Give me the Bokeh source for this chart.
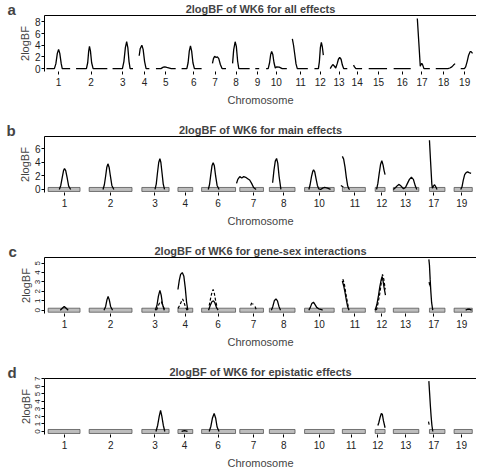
from bokeh.plotting import figure
from bokeh.layouts import column
from bokeh.models import FixedTicker, LinearAxis, Label, Range1d
from bokeh.embed import file_html
from bokeh.resources import INLINE

FONT = "Liberation Sans"

# ---------------- panel a : all effects ----------------
a_title = "2logBF of WK6 for all effects"
a_tick_pos = [52.3, 85.3, 117.3, 139.3, 161, 189.3, 211, 232.3, 254, 273,
              297.7, 317.7, 336.7, 355, 376.7, 400.7, 420.7, 442.7, 464]
a_tick_lab = ["1", "2", "3", "4", "5", "6", "7", "8", "9", "10",
              "11", "12", "13", "14", "15", "16", "17", "18", "19"]
a_yticks = [0, 2, 4, 6, 8]
a_x = [
    [40, 48, 49.5, 51, 52.3, 53.5, 55, 56, 64],
    [70, 80.5, 81.8, 82.8, 83.6, 84.6, 85.8, 87.3, 101.7],
    [107, 117, 118.5, 120, 121.3, 122.5, 123.7, 124.8, 127.7],
    [134, 135, 136.7, 138, 139.5, 141, 144.3],
    [151, 156, 158.5, 160, 162, 166.5, 171],
    [177, 182.3, 183.6, 184.8, 186, 187.2, 188.5, 190, 197.3],
    [208.3, 209.3, 210.5, 212, 213.3, 214.7, 216.3, 218, 222],
    [228.7, 229.8, 231.3, 232.5, 233.8, 235, 246],
    [251.7, 255.7],
    [262.7, 264.8, 266.2, 267.3, 268.3, 269.5, 270.7, 272, 273.5, 276, 279, 283.7],
    [289.3, 290.5, 291.7, 293, 294.3, 305],
    [311.7, 315.7, 316.7, 317.7, 318.7, 319.7, 320.7],
    [327.7, 328.7, 330.3, 332, 333.3, 334.7, 336, 337.3, 338.7, 340, 341.3, 345],
    [351.3, 352.3, 353.7, 360],
    [366.7, 385.3],
    [392, 409.3],
    [416, 417.5, 419, 419.7, 420.5, 421.5, 422.7, 428.7],
    [434.7, 447, 449, 451, 452.7, 454.3],
    [460, 463.7, 465, 466.5, 468, 469.5, 470.5, 472],
]
a_y = [
    [0, 0, 0.8, 2.6, 3.3, 2.6, 0.8, 0, 0],
    [0, 0, 1.0, 3.0, 3.8, 3.0, 1.0, 0, 0],
    [0, 0, 1.2, 3.6, 4.6, 3.6, 1.2, 0, 0],
    [2.2, 3.4, 4.0, 3.3, 1.2, 0, 0],
    [0, 0, 0.25, 0.3, 0.2, 0, 0],
    [0, 0, 1.0, 3.0, 3.9, 3.0, 1.0, 0, 0],
    [0.9, 1.7, 2.1, 1.9, 2.0, 1.7, 0.7, 0, 0],
    [0.9, 3.2, 4.6, 3.8, 1.3, 0, 0],
    [0, 0],
    [0, 0, 1.0, 2.4, 2.95, 2.4, 1.0, 0.1, 0.3, 0.25, 0, 0],
    [5.1, 4.0, 2.5, 0.8, 0, 0],
    [0, 0, 1.2, 3.6, 4.5, 3.7, 2.3],
    [0, 0.3, 0.7, 0.4, 0.1, 0.8, 1.6, 1.9, 1.6, 0.6, 0, 0],
    [0.6, 0.3, 0, 0],
    [0, 0],
    [0, 0],
    [8.6, 4.5, 0.4, 0.7, 0.9, 0.6, 0, 0],
    [0, 0, 0.1, 0.3, 0.6, 0.85],
    [0, 0, 0.3, 1.2, 2.3, 2.9, 2.9, 2.6],
]

# ---------------- shared chromosome bars (panels b, c, d) ----------------
bcd_tick_lab = ["1", "2", "3", "4", "6", "7", "8", "10", "11", "12", "13", "17", "19"]
bc_tick_pos = [58.3, 105, 150, 180.7, 214, 250, 280.7, 316.7, 352.7, 380, 404, 432.7, 461]
d_tick_pos = [58.3, 105.3, 150, 180, 214, 250, 280.7, 316.7, 349, 376, 404.3, 432.7, 460.7]
bar_start = [41.7, 83.3, 136.7, 173.3, 197.3, 236, 266, 301.7, 340, 373.3, 391.7, 428.3, 453.3]
bar_end = [74, 126.7, 164.3, 188.3, 231.7, 260, 292, 331.7, 363.3, 383.3, 417.5, 444, 471.7]

# ---------------- panel b : main effects ----------------
b_title = "2logBF of WK6 for main effects"
b_yticks = [0, 2, 4, 6]
b_x = [
    [53, 54.5, 56, 57.3, 58.3, 59.5, 61, 62.5, 64.5],
    [97.3, 98.7, 100, 101.2, 102.3, 103.5, 104.8, 106.3, 108.3],
    [150, 151.3, 152.5, 153.8, 155, 156, 157.2, 158.4, 159.7],
    [204, 205.3, 206.6, 207.8, 209, 210.2, 211.5, 213, 215],
    [232.7, 234, 236, 238, 240, 242, 244, 246, 248, 250, 252.5],
    [269.3, 270.7, 272, 273.3, 274.5, 275.8, 277.7],
    [306, 307.3, 308.7, 310, 310.8, 312, 313.3, 314.7, 316, 318, 320, 322, 325, 328],
    [340, 341.3, 342.7, 344, 345.3, 346.5, 347.5],
    [374.7, 376, 377.3, 378.7, 380, 381.3, 382.3, 383.3],
    [391.7, 394, 396, 397.5, 399.5, 402, 404, 406, 408, 410, 412, 414, 415.5],
    [428.3, 429.5, 430.7, 431.3, 432.3, 433.5, 434.7, 436],
    [460, 461.3, 462.5, 464, 465.5, 467, 468.5, 470.5],
]
b_y = [
    [0, 0.6, 1.8, 2.8, 3.1, 2.8, 1.7, 0.5, 0],
    [0, 0.7, 2.0, 3.3, 3.8, 3.3, 2.0, 0.6, 0],
    [0, 0.8, 2.4, 4.0, 4.55, 4.0, 2.4, 0.8, 0],
    [0, 0.7, 2.2, 3.5, 3.95, 3.5, 2.0, 0.6, 0],
    [0.9, 1.5, 1.9, 1.7, 1.9, 1.8, 1.6, 1.4, 0.9, 0.3, 0],
    [1.0, 2.9, 4.2, 4.6, 3.9, 2.0, 0],
    [0, 0.7, 1.9, 2.7, 2.9, 2.6, 1.6, 0.6, 0.1, 0, 0.2, 0.3, 0.2, 0],
    [4.9, 4.5, 3.3, 1.8, 0.6, 0.1, 0],
    [0, 0.9, 2.3, 3.7, 4.25, 3.6, 2.8, 2.2],
    [0, 0.3, 0.6, 0.75, 0.5, 0.1, 0.3, 0.9, 1.5, 1.8, 1.5, 0.5, 0],
    [7.3, 4.0, 0.8, 0.2, 0.5, 0.7, 0.4, 0],
    [0, 0.4, 1.3, 2.2, 2.5, 2.6, 2.5, 2.4],
]
b_dash_x = [[338.5, 340.5, 342.5]]
b_dash_y = [[0.6, 0.4, 0.1]]

# ---------------- panel c : gene-sex interactions ----------------
c_title = "2logBF of WK6 for gene-sex interactions"
c_yticks = [0, 1, 2, 3, 4, 5]
c_x = [
    [54, 56, 58, 60, 62],
    [98.3, 100, 101.3, 102.5, 103.7, 105, 107],
    [150.3, 152, 153.5, 155, 156.3, 157.7, 159.5],
    [173.3, 174.7, 176, 177.7, 179.3, 180.7, 182, 183.3],
    [204.3, 206, 207.7, 209.3, 210.7, 212.3, 214],
    [268, 269.5, 271, 272.7, 274.2, 275.7, 277.3],
    [306, 307.5, 309, 310.7, 312.3, 314, 316, 318, 320],
    [340, 341.3, 342.7, 344, 345.3, 346.7],
    [373.3, 375, 376.7, 378, 379.3, 380.3, 381.3, 382.3, 383.7],
    [427.7, 428.3, 429, 429.7, 430.5, 431.7],
    [465, 467, 469, 471],
]
c_y = [
    [0, 0.2, 0.4, 0.2, 0],
    [0, 0.4, 1.1, 1.45, 1.1, 0.4, 0],
    [0, 0.5, 1.5, 2.1, 1.6, 0.6, 0],
    [2.2, 3.2, 3.8, 4.0, 3.6, 2.4, 0.9, 0],
    [0, 0.5, 0.9, 1.0, 0.8, 0.3, 0],
    [0, 0.4, 1.0, 1.2, 1.0, 0.4, 0],
    [0, 0.3, 0.7, 0.85, 0.6, 0.3, 0.15, 0.1, 0],
    [3.1, 2.6, 1.9, 1.1, 0.4, 0],
    [0, 0.6, 1.6, 2.5, 3.2, 3.6, 3.1, 2.4, 1.6],
    [5.4, 4.8, 3.3, 2.0, 0.8, 0],
    [0, 0.1, 0.1, 0],
]
c_dash_x = [
    [151.5, 153.5, 155, 156.5, 158, 160],
    [173.3, 175, 176.7, 178, 179.3, 180.7, 182.5],
    [205, 206.5, 208, 209, 210, 211.5, 213],
    [247, 248.3, 249.5],
    [251.5, 252.5],
    [340.5, 342, 343.5, 345, 346.5],
    [374.5, 376.3, 378, 379.3, 380.7, 382, 383.5],
    [428, 428.7, 429.3],
]
c_dash_y = [
    [0, 0.5, 0.85, 0.9, 0.5, 0],
    [0.2, 0.5, 0.9, 1.2, 0.9, 0.4, 0],
    [0.5, 1.3, 2.0, 2.2, 1.9, 1.0, 0.3],
    [0.5, 0.85, 0.6],
    [0.4, 0.1],
    [3.3, 2.8, 1.8, 0.9, 0.1],
    [0, 0.8, 1.8, 2.8, 3.8, 3.3, 2.2],
    [3.0, 2.5, 2.8],
]

# ---------------- panel d : epistatic effects ----------------
d_title = "2logBF of WK6 for epistatic effects"
d_yticks = [0, 1, 2, 3, 4, 5, 6, 7]
d_x = [
    [151, 152.7, 154.3, 155.7, 157, 158.5, 160],
    [177, 180, 183],
    [205, 206.7, 208.3, 210, 211.5, 213, 215],
    [376, 377, 378.3, 379.5, 380.5, 381.7, 383.3],
    [427.7, 428.5, 429.3, 430, 430.8, 431.7],
]
d_y = [
    [0, 0.8, 2.0, 2.8, 2.0, 0.8, 0],
    [0, 0.1, 0],
    [0, 0.7, 1.8, 2.4, 1.8, 0.6, 0],
    [0.8, 1.2, 1.9, 2.4, 2.3, 1.4, 0.5],
    [6.7, 5.0, 3.3, 2.0, 0.8, 0],
]
d_dash_x = [[427.3, 428, 428.5]]
d_dash_y = [[1.3, 0.9, 1.1]]


FRAME_W = 432
FRAME_H = 56
LEFT = 44


def make_panel(letter, title, yticks, yrange, vertical_labels, tick_pos, tick_lab,
               bottom, letter_dy):
    p = figure(frame_width=FRAME_W, frame_height=FRAME_H,
               x_range=Range1d(38, 476), y_range=Range1d(*yrange),
               output_backend="svg", toolbar_location=None,
               min_border_left=LEFT, min_border_right=0,
               min_border_top=0, min_border_bottom=bottom)
    p.background_fill_color = "white"
    p.border_fill_color = "white"
    p.outline_line_color = None
    p.grid.visible = False

    p.title.text = title
    p.title.align = "center"
    p.title.text_font = FONT
    p.title.text_font_size = "11px"
    p.title.text_font_style = "bold"
    p.title.standoff = 1
    p.title.offset = 0

    xa = p.xaxis[0]
    xa.ticker = FixedTicker(ticks=tick_pos)
    xa.major_label_overrides = {t: l for t, l in zip(tick_pos, tick_lab)}
    xa.axis_line_color = None
    xa.major_tick_out = 3
    xa.major_tick_in = 0
    xa.minor_tick_line_color = None
    xa.major_label_standoff = 3
    xa.major_label_text_font = FONT
    xa.major_label_text_font_size = "10px"
    xa.major_label_text_color = "#222222"
    xa.axis_label = "Chromosome"
    xa.axis_label_text_font = FONT
    xa.axis_label_text_font_size = "11px"
    xa.axis_label_text_font_style = "normal"
    xa.axis_label_standoff = 5

    ya = p.yaxis[0]
    ya.ticker = FixedTicker(ticks=yticks)
    ya.axis_line_color = "black"
    ya.major_tick_out = 3
    ya.major_tick_in = 0
    ya.minor_tick_line_color = None
    ya.major_label_standoff = 1
    ya.major_label_text_font = FONT
    ya.major_label_text_font_size = "8px" if vertical_labels else "10px"
    ya.major_label_text_color = "#222222"
    if vertical_labels:
        ya.major_label_orientation = "vertical"
    ya.axis_label = "2logBF"
    ya.axis_label_text_font = FONT
    ya.axis_label_text_font_size = "11px"
    ya.axis_label_text_font_style = "normal"
    ya.axis_label_standoff = 1

    for side in ("above", "right"):
        ax = LinearAxis(ticker=FixedTicker(ticks=[]), major_tick_out=0, major_tick_in=0,
                        minor_tick_out=0, minor_tick_in=0, major_label_standoff=0,
                        major_label_text_font_size="0px", axis_line_color="black")
        p.add_layout(ax, side)

    # panel letter, placed in a side panel on the left so it is not clipped
    p.add_layout(Label(x=0, y=FRAME_H + letter_dy, x_units="screen", y_units="screen",
                       text=letter, text_font=FONT, text_font_size="15px",
                       text_font_style="bold", text_align="left",
                       text_baseline="middle"), "left")
    return p


def add_bars(p):
    centers = [(s + e) / 2 for s, e in zip(bar_start, bar_end)]
    widths = [e - s for s, e in zip(bar_start, bar_end)]
    p.rect(x=centers, y=0, width=widths, height=4, height_units="screen",
           fill_color="#bdbdbd", line_color="#555555", line_width=0.8)


pa = make_panel("a", a_title, a_yticks, (-0.5, 9.1), False, a_tick_pos, a_tick_lab, 50, 6.5)
pa.multi_line(xs=a_x, ys=a_y, line_color="black", line_width=1.3)

pb = make_panel("b", b_title, b_yticks, (-0.45, 7.85), False, bc_tick_pos, bcd_tick_lab, 50, 6.5)
add_bars(pb)
pb.multi_line(xs=b_x, ys=b_y, line_color="black", line_width=1.3)
pb.multi_line(xs=b_dash_x, ys=b_dash_y, line_color="black", line_width=1.2, line_dash="3 2")

pc = make_panel("c", c_title, c_yticks, (-0.35, 5.6), True, bc_tick_pos, bcd_tick_lab, 50, 6.5)
add_bars(pc)
pc.multi_line(xs=c_x, ys=c_y, line_color="black", line_width=1.3)
pc.multi_line(xs=c_dash_x, ys=c_dash_y, line_color="black", line_width=1.2, line_dash="3 2")

pd_ = make_panel("d", d_title, d_yticks, (-0.4, 7.05), True, d_tick_pos, bcd_tick_lab, 35, 6.5)
add_bars(pd_)
pd_.multi_line(xs=d_x, ys=d_y, line_color="black", line_width=1.3)
pd_.multi_line(xs=d_dash_x, ys=d_dash_y, line_color="black", line_width=1.2, line_dash="3 2")

layout = column(pa, pb, pc, pd_, spacing=0)

open("out.html", "w").write(file_html(layout, INLINE))
